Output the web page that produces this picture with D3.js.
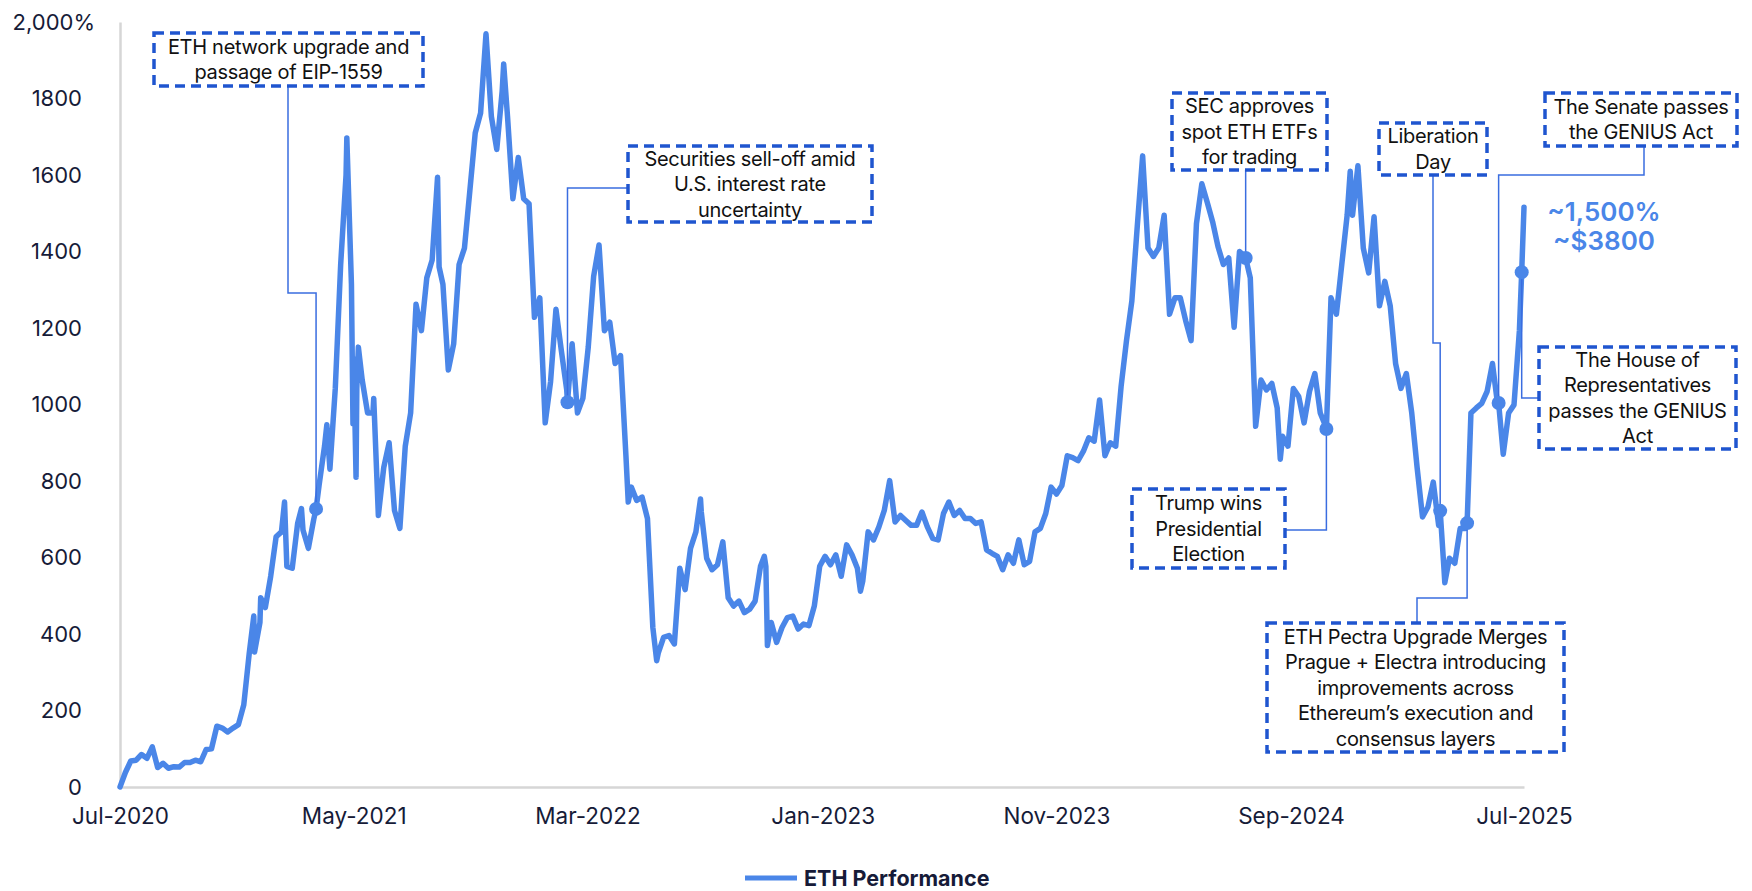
<!DOCTYPE html>
<html><head><meta charset="utf-8">
<script src="https://cdn.jsdelivr.net/npm/d3@7"></script>
<style>
body{margin:0;background:#fff}
text{font-family:Inter,"Noto Sans",sans-serif}
</style>
</head><body>
<svg id="chart" width="1752" height="891"></svg>
<script>
// ---------------- DATA ----------------
const seriesName = "ETH Performance";
const startDate = "2020-07-20";          // first weekly observation
const endDate = "2025-07-20";            // last observation
// weekly ETH performance (%) since start, one value per week from startDate
const weeklyValues = [
  // 2020
  0, 38, 68, 70, 85, 75, 105, 51, 62, 49, 53, 52, 64, 64, 70, 66, 98, 100, 159, 154, 144, 154, 163, 215,
  // 2021
  348, 353, 430, 469, 551, 654, 667, 577, 572, 689, 672, 624, 700, 790, 891, 831, 1042,
  1366, 1600, 1314, 1042, 1064, 978, 978, 710, 835, 900, 723, 676, 891,
  978, 1262, 1193, 1331, 1378, 1594, 1314, 1090, 1159, 1366, 1409, 1559, 1710,
  1762, 1969, 1753, 1667, 1818, 1753, 1538, 1646, 1538,
  // 2022
  1525, 1228, 1279, 952, 1060, 1249, 1141, 1038, 1159, 978, 1016, 1150, 1335,
  1417, 1193, 1215, 1107, 1128, 866, 784, 749, 758, 702, 417, 350, 391,
  396, 374, 572, 516, 624, 667, 719, 598, 568, 581, 641, 495, 473,
  486, 456, 465, 486, 577, 577, 430, 378, 417, 443, 447, 413, 426,
  // 2023
  422, 473, 577, 603, 581, 607, 551, 633, 607, 572, 538, 667, 646,
  680, 723, 801, 693, 710, 697, 684, 684, 719, 680, 650, 646, 715,
  745, 710, 723, 702, 702, 689, 693, 620, 611, 603, 568, 607, 585,
  646, 581, 590, 667, 676, 715, 784, 766, 788, 866, 861, 853, 878,
  // 2024
  913, 904, 1012, 866, 900, 891, 1047, 1167, 1271, 1465, 1650, 1409, 1387,
  1409, 1495, 1236, 1279, 1279, 1219, 1167, 1473, 1577, 1529, 1478, 1413, 1366,
  1383, 1202, 1400, 1387, 1331, 943, 1064, 1038, 1055, 991, 917, 891, 1042, 1021,
  952, 1034, 1081, 978, 943, 1279, 1236, 1366, 1495, 1495, 1624, 1409, 1344,
  // 2025
  1491, 1258, 1322, 1258, 1107, 1042, 1081, 978, 835, 706, 732, 797, 684,
  568, 598, 585, 676, 676, 978, 991, 1003, 1034, 1107, 995, 870, 978,
  999, 1193
];
// intra-week extremes visible in the chart
const extraDates  = ["2021-01-10","2021-01-19","2021-02-19","2021-03-13","2021-04-15","2021-05-11","2021-05-19","2021-05-20","2021-05-23","2021-05-26","2021-06-15","2021-09-08","2021-12-01",
                     "2022-05-12","2022-06-18","2022-08-14","2022-11-05","2022-11-09","2023-03-10","2024-09-06","2024-12-06","2025-04-08","2025-07-20"];
const extraValues = [447, 495, 745, 728, 947, 1697, 950, 1120, 810, 1150, 1016, 1360, 1890,
                     745, 330, 753, 603, 370, 512, 857, 1610, 534, 1516];

// annotated events
const eventDates  = ["2021-04-01","2022-02-22","2024-07-23","2024-11-05","2025-04-02","2025-05-07","2025-06-17","2025-07-17"];
const eventValues = [727, 1006, 1383, 936, 722, 690, 1004, 1346];
const eventLabels = [
  ["ETH network upgrade and","passage of EIP-1559"],
  ["Securities sell-off amid","U.S. interest rate","uncertainty"],
  ["SEC approves","spot ETH ETFs","for trading"],
  ["Trump wins","Presidential","Election"],
  ["Liberation","Day"],
  ["ETH Pectra Upgrade Merges","Prague + Electra introducing","improvements across","Ethereum\u2019s execution and","consensus layers"],
  ["The Senate passes","the GENIUS Act"],
  ["The House of","Representatives","passes the GENIUS","Act"]
];
const endLabel = ["~1,500%","~$3800"];

const xTickDates = ["2020-07-20","2021-05-20","2022-03-20","2023-01-20","2023-11-20","2024-09-20","2025-07-20"];
const yTickValues = [0,200,400,600,800,1000,1200,1400,1600,1800,2000];

// ---------------- LAYOUT (pixels, not data) ----------------
const W = 1752, H = 891;
const plot = {left:120, right:1524, top:22, bottom:787};
// callout boxes: [x0,y0,x1,y1] and leader path elbows (marker point appended)
const boxes = [
  {b:[154,33,423,86],   path:(m)=>[[288,86],[288,293],[m[0],293],m]},
  {b:[628,146,872,222], path:(m)=>[[628,188],[m[0],188],m]},
  {b:[1172,93,1327,170],path:(m)=>[[m[0],170],m]},
  {b:[1132,489,1285,568],path:(m)=>[[1285,530],[m[0],530],m]},
  {b:[1379,123,1487,175],path:(m)=>[[1433,175],[1433,343],[m[0],343],m]},
  {b:[1267,623,1564,752],path:(m)=>[[1417,623],[1417,598],[m[0],598],m]},
  {b:[1545,93,1737,146], path:(m)=>[[1644,146],[1644,175],[m[0],175],m]},
  {b:[1539,347,1736,449],path:(m)=>[[1539,398],[m[0],398],m]}
];

const COL_LINE = "#4a86e8", COL_BOX = "#1f55cf", COL_LEAD = "#3a6de0", COL_AXIS_TXT = "#161b38";

// ---------------- BUILD ----------------
const parse = d3.timeParse("%Y-%m-%d");
const t0 = parse(startDate);
let pts = weeklyValues.map((v,i)=>({date:d3.timeDay.offset(t0,7*i), value:v}));
extraDates.forEach((d,i)=>pts.push({date:parse(d), value:extraValues[i]}));
eventDates.forEach((d,i)=>pts.push({date:parse(d), value:eventValues[i]}));
pts.sort((a,b)=>a.date-b.date);

const x = d3.scaleTime().domain([parse(startDate), parse(endDate)]).range([plot.left, plot.right]);
const y = d3.scaleLinear().domain([0,2000]).range([plot.bottom, plot.top]);

const svg = d3.select("#chart");
svg.append("rect").attr("width",W).attr("height",H).attr("fill","#fff");

// axes
const yAxis = d3.axisLeft(y).tickValues(yTickValues).tickSize(0).tickPadding(38)
  .tickFormat(d=> d===2000 ? "2,000%" : String(d));
const gy = svg.append("g").attr("transform",`translate(${plot.left},0)`).call(yAxis);
gy.select(".domain").attr("stroke","#d6d6d6").attr("stroke-width",2.5);
gy.selectAll("text").attr("fill",COL_AXIS_TXT).style("font-size","22px")
  .attr("dx", d=> d===2000 ? 13 : 0);

const xAxis = d3.axisBottom(x).tickValues(xTickDates.map(parse)).tickSize(0).tickPadding(21)
  .tickFormat(d3.timeFormat("%b-%Y"));
const gx = svg.append("g").attr("transform",`translate(0,${plot.bottom})`).call(xAxis);
gx.select(".domain").attr("stroke","#d6d6d6").attr("stroke-width",2.5);
gx.selectAll("text").attr("fill",COL_AXIS_TXT).style("font-size","22.5px");

// line
const line = d3.line().x(d=>x(d.date)).y(d=>y(d.value));
svg.append("path").datum(pts).attr("d",line).attr("fill","none")
  .attr("stroke",COL_LINE).attr("stroke-width",5.5).attr("stroke-linejoin","round").attr("stroke-linecap","round");

// callouts
const ann = svg.append("g");
eventDates.forEach((d,i)=>{
  const m = [x(parse(d)), y(eventValues[i])];
  ann.append("path").attr("d", d3.line()(boxes[i].path(m))).attr("fill","none")
    .attr("stroke",COL_LEAD).attr("stroke-width",1.5);
});
eventDates.forEach((d,i)=>{
  svg.append("circle").attr("cx",x(parse(d))).attr("cy",y(eventValues[i])).attr("r",7).attr("fill",COL_LINE);
});
eventLabels.forEach((lines,i)=>{
  const [x0,y0,x1,y1] = boxes[i].b;
  ann.append("rect").attr("x",x0).attr("y",y0).attr("width",x1-x0).attr("height",y1-y0)
    .attr("fill","#fff").attr("stroke",COL_BOX).attr("stroke-width",3.5).attr("stroke-dasharray","10 6");
  const lh = 25.5, cy = (y0+y1)/2, n = lines.length;
  lines.forEach((s,j)=>{
    ann.append("text").attr("x",(x0+x1)/2).attr("y",cy + (j-(n-1)/2)*lh)
      .attr("text-anchor","middle").attr("dominant-baseline","central")
      .attr("fill","#111").style("font-size","20px").style("letter-spacing","-0.3px").text(s);
  });
});

// end label
const lastPt = pts[pts.length-1];
endLabel.forEach((s,j)=>{
  svg.append("text").attr("x",x(lastPt.date)+80).attr("y",211+29*j)
    .attr("text-anchor","middle").attr("dominant-baseline","central")
    .attr("fill",COL_LINE).style("font-size","26px").style("font-weight",600).text(s);
});

// legend
const lg = svg.append("g").attr("transform","translate(745,878)");
lg.append("line").attr("x1",0).attr("x2",52).attr("stroke",COL_LINE).attr("stroke-width",5);
lg.append("text").attr("x",59).attr("y",0).attr("dominant-baseline","central")
  .attr("fill",COL_AXIS_TXT).style("font-size","21.5px").style("font-weight",700).text(seriesName);
</script>
</body></html>
